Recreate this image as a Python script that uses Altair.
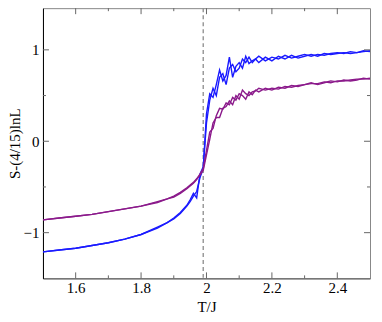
import altair as alt
import pandas as pd

T_low = [1.50, 1.55, 1.60, 1.65, 1.70, 1.75, 1.80, 1.85, 1.88, 1.90, 1.92, 1.94, 1.95, 1.96, 1.97, 1.98, 1.99]
blue1_low = [-1.21, -1.19, -1.17, -1.14, -1.11, -1.07, -1.02, -0.94, -0.89, -0.85, -0.79, -0.71, -0.66, -0.60, -0.55, -0.40, -0.30]
blue2_low = [-1.21, -1.19, -1.17, -1.14, -1.11, -1.07, -1.02, -0.95, -0.89, -0.84, -0.78, -0.70, -0.64, -0.57, -0.62, -0.36, -0.28]
purple1_low = [-0.86, -0.84, -0.82, -0.80, -0.77, -0.74, -0.71, -0.66, -0.63, -0.60, -0.56, -0.51, -0.48, -0.45, -0.41, -0.37, -0.32]
purple2_low = [-0.86, -0.84, -0.82, -0.80, -0.77, -0.74, -0.71, -0.67, -0.63, -0.61, -0.57, -0.52, -0.49, -0.46, -0.42, -0.36, -0.30]

T_high = [2.00, 2.01, 2.02, 2.03, 2.04, 2.05, 2.06, 2.07, 2.08, 2.09, 2.10, 2.11, 2.12, 2.13, 2.14, 2.15, 2.16,
          2.18, 2.20, 2.22, 2.24, 2.26, 2.28, 2.30, 2.32, 2.34, 2.36, 2.38, 2.40, 2.42, 2.44, 2.46, 2.48, 2.50]
blue1_high = [0.30, 0.52, 0.48, 0.62, 0.78, 0.66, 0.72, 0.92, 0.70, 0.82, 0.86, 0.80, 0.93, 0.85, 0.88, 0.90, 0.86,
              0.92, 0.88, 0.93, 0.90, 0.94, 0.91, 0.93, 0.95, 0.93, 0.96, 0.95, 0.96, 0.97, 0.96, 0.97, 0.99, 0.98]
blue2_high = [0.20, 0.45, 0.58, 0.50, 0.70, 0.74, 0.62, 0.80, 0.84, 0.76, 0.80, 0.90, 0.86, 0.92, 0.86, 0.90, 0.93,
              0.88, 0.92, 0.90, 0.94, 0.91, 0.93, 0.95, 0.93, 0.95, 0.94, 0.96, 0.97, 0.96, 0.98, 0.97, 0.98, 0.99]
purple1_high = [-0.15, 0.02, 0.20, 0.26, 0.26, 0.36, 0.38, 0.44, 0.40, 0.50, 0.46, 0.56, 0.52, 0.50, 0.54, 0.55, 0.58,
                0.56, 0.58, 0.57, 0.60, 0.59, 0.61, 0.62, 0.63, 0.63, 0.65, 0.64, 0.66, 0.66, 0.67, 0.68, 0.68, 0.69]
purple2_high = [-0.10, 0.10, 0.14, 0.28, 0.36, 0.35, 0.42, 0.40, 0.48, 0.45, 0.52, 0.50, 0.46, 0.54, 0.51, 0.56, 0.54,
                0.58, 0.56, 0.59, 0.58, 0.61, 0.60, 0.62, 0.64, 0.62, 0.64, 0.66, 0.65, 0.67, 0.66, 0.67, 0.69, 0.68]

series_names = ["blue1", "blue2", "purple1", "purple2"]
series_colors = ["#1a1aff", "#1a1aff", "#8b1a8b", "#8b1a8b"]
Tc = [1.99]

x_major = [1.6, 1.8, 2.0, 2.2, 2.4]
x_minor = [1.7, 1.9, 2.1, 2.3]
y_major = [-1, 0, 1]
y_minor = [-0.5, 0.5]

rows = []
for name, lo, hi in [("blue1", blue1_low, blue1_high), ("blue2", blue2_low, blue2_high),
                     ("purple1", purple1_low, purple1_high), ("purple2", purple2_low, purple2_high)]:
    for i, (t, s) in enumerate(zip(T_low + T_high, lo + hi)):
        rows.append({"T": t, "S": s, "series": name, "order": i})
df = pd.DataFrame(rows)

W, H = 327.4, 270.5
FONT = "Liberation Serif"
xscale = alt.Scale(domain=[1.5, 2.5], nice=False, zero=False)
yscale = alt.Scale(domain=[-1.5, 1.456], nice=False, zero=False)

lines = alt.Chart(df).mark_line(strokeWidth=1.4, clip=True).encode(
    x=alt.X("T:Q", scale=xscale, title="T/J",
            axis=alt.Axis(values=x_major, format="~g", ticks=False, labelPadding=2, titlePadding=4,
                          labelFont=FONT, titleFont=FONT,
                          domainColor="#555555", grid=False)),
    y=alt.Y("S:Q", scale=yscale, title="S-(4/15)lnL",
            axis=alt.Axis(values=y_major, format="~g", ticks=False, labelPadding=4, titlePadding=1,
                          labelFont=FONT, titleFont=FONT,
                          domainColor="#000000", grid=False)),
    color=alt.Color("series:N", scale=alt.Scale(domain=series_names, range=series_colors), legend=None),
    order="order:Q",
)

vline = alt.Chart(pd.DataFrame({"T": Tc})).mark_rule(color="#8c8c8c", strokeDash=[4, 3], strokeWidth=1.3).encode(
    x="T:Q", y=alt.value(0), y2=alt.value(H)
)

tick_col = "#666666"
xmaj = pd.DataFrame({"T": x_major})
xmin = pd.DataFrame({"T": x_minor})
ymaj = pd.DataFrame({"S": y_major})
ymin = pd.DataFrame({"S": y_minor})

ticks = [
    alt.Chart(xmaj).mark_rule(color=tick_col).encode(x="T:Q", y=alt.value(H), y2=alt.value(H - 6)),
    alt.Chart(xmaj).mark_rule(color=tick_col).encode(x="T:Q", y=alt.value(0), y2=alt.value(6)),
    alt.Chart(xmin).mark_rule(color=tick_col).encode(x="T:Q", y=alt.value(H), y2=alt.value(H - 3)),
    alt.Chart(xmin).mark_rule(color=tick_col).encode(x="T:Q", y=alt.value(0), y2=alt.value(3)),
    alt.Chart(ymaj).mark_rule(color=tick_col).encode(y="S:Q", x=alt.value(0), x2=alt.value(6)),
    alt.Chart(ymaj).mark_rule(color=tick_col).encode(y="S:Q", x=alt.value(W), x2=alt.value(W - 6)),
    alt.Chart(ymin).mark_rule(color=tick_col).encode(y="S:Q", x=alt.value(0), x2=alt.value(3)),
    alt.Chart(ymin).mark_rule(color=tick_col).encode(y="S:Q", x=alt.value(W), x2=alt.value(W - 3)),
]

chart = alt.layer(vline, lines, *ticks).properties(
    width=W, height=H,
    autosize=alt.AutoSizeParams(type="none"),
    padding={"left": 35, "top": 0, "right": 4, "bottom": 35},
    background="white",
).configure_view(stroke="#888888", strokeWidth=1).configure_axis(
    labelFont=FONT, titleFont=FONT, labelFontSize=15, titleFontSize=15,
    labelColor="#000000", titleColor="#000000", titleFontWeight="normal", domainWidth=1,
)

chart.save("out.html", embed_options={"renderer": "svg", "actions": False})
